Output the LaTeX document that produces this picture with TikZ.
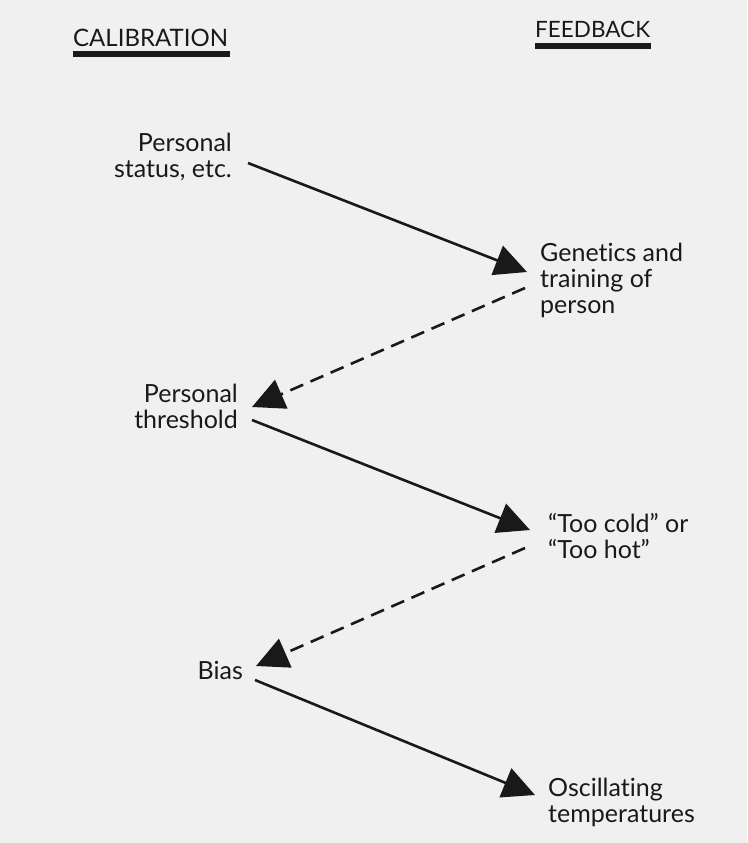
\documentclass[tikz,border=0pt]{standalone}
\usepackage{fontspec}
\setmainfont{Lato}[Ligatures={TeX,NoCommon}]
\usetikzlibrary{arrows.meta}
\definecolor{paper}{gray}{0.94}
\definecolor{ink}{gray}{0.1}

\begin{document}
\begin{tikzpicture}[x=1pt, y=-1pt, ink,
       every node/.style = {inner sep=0pt, text=ink},
         heading/.style = {font=\fontsize{24}{28}\selectfont},
            item/.style = {font=\fontsize{25}{26}\selectfont},
        headrule/.style = {line width=6pt},
          linkto/.style = {line width=2.6pt,
                           -{Triangle[length=32pt, width=31pt]}},
        feedback/.style = {linkto, dash pattern=on 14pt off 8pt}
                        ]
\fill[paper] (0,0) rectangle (747,843);
\useasboundingbox (0,0) rectangle (747,843);
% Column headings
\node[heading, anchor=base west] (cal) at (73,47) {CALIBRATION};
\node[heading, anchor=base west, font=\fontsize{22.5}{26}\selectfont]
      (fb) at (535,38) {FEEDBACK};
\draw[headrule] ([yshift=-7pt]cal.base west) -- ([yshift=-7pt,xshift=2pt]cal.base east);
\draw[headrule] ([yshift=-8pt]fb.base west)  -- ([yshift=-8pt,xshift=1pt]fb.base east);
% Calibration side (base = last line)
\node[item, align=right, anchor=base east] (ps)   at (232,177) {Personal\\status, etc.};
\node[item, align=right, anchor=base east] (pt)   at (238,428) {Personal\\threshold};
\node[item, align=right, anchor=base east] (bias) at (243,679) {Bias};
% Feedback side
\node[item, align=left, anchor=base west]  (gen)  at (540,313) {Genetics and\\training of\\person};
\node[item, align=left, anchor=base west]  (hot)  at (548,558) {``Too cold'' or\\``Too hot''};
\node[item, align=left, anchor=base west]  (osc)  at (548,822) {Oscillating\\temperatures};
% Connect calibration with feedback, and feedback back to calibration
\draw[linkto]   ([shift={(16,-14)}]ps.base east)   -- ([shift={(-13,-41)}]gen.base west);
\draw[feedback] ([shift={(-15,-25)}]gen.base west) -- ([shift={(14,-21)}]pt.base east);
\draw[linkto]   ([shift={(14,-8)}]pt.base east)    -- ([shift={(-18,-28)}]hot.base west);
\draw[feedback] ([shift={(-23,-10)}]hot.base west) -- ([shift={(13,-13)}]bias.base east);
\draw[linkto]   ([shift={(12,1)}]bias.base east)   -- ([shift={(-13,-27)}]osc.base west);
\end{tikzpicture}
\end{document}
